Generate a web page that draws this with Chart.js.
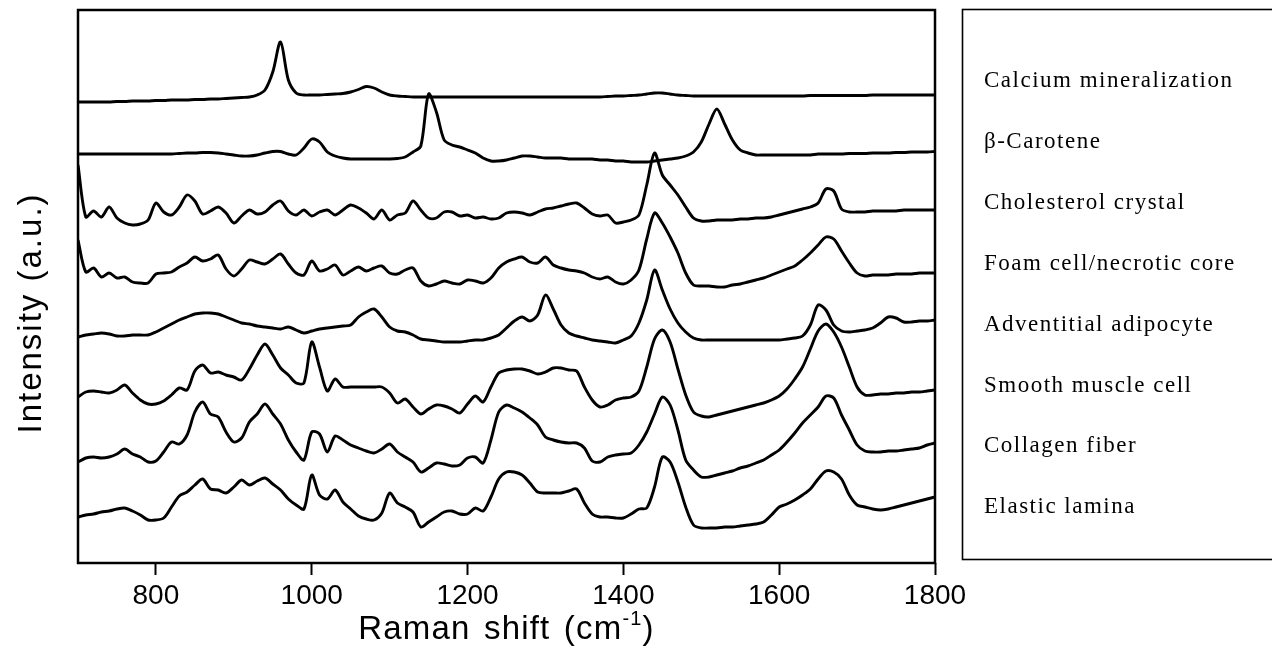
<!DOCTYPE html>
<html>
<head>
<meta charset="utf-8">
<script src="https://cdn.jsdelivr.net/npm/chart.js@4.4.1/dist/chart.umd.min.js"></script>
<style>
  html, body { margin: 0; padding: 0; background: #fff; }
</style>
</head>
<body>
<canvas id="raman" width="1272" height="648"></canvas>
<script>
// Raman shift grid (cm-1), one sample every 10 cm-1
var ramanShift = [
  700, 710, 720, 730, 740, 750, 760, 770, 780, 790,
  800, 810, 820, 830, 840, 850, 860, 870, 880, 890,
  900, 910, 920, 930, 940, 950, 960, 970, 980, 990,
  1000, 1010, 1020, 1030, 1040, 1050, 1060, 1070, 1080, 1090,
  1100, 1110, 1120, 1130, 1140, 1150, 1160, 1170, 1180, 1190,
  1200, 1210, 1220, 1230, 1240, 1250, 1260, 1270, 1280, 1290,
  1300, 1310, 1320, 1330, 1340, 1350, 1360, 1370, 1380, 1390,
  1400, 1410, 1420, 1430, 1440, 1450, 1460, 1470, 1480, 1490,
  1500, 1510, 1520, 1530, 1540, 1550, 1560, 1570, 1580, 1590,
  1600, 1610, 1620, 1630, 1640, 1650, 1660, 1670, 1680, 1690,
  1700, 1710, 1720, 1730, 1740, 1750, 1760, 1770, 1780, 1790, 1800
];

var tickValues = [800, 1000, 1200, 1400, 1600, 1800];

var names = [
  'Calcium mineralization', 'β-Carotene', 'Cholesterol crystal', 'Foam cell/necrotic core',
  'Adventitial adipocyte', 'Smooth muscle cell', 'Collagen fiber', 'Elastic lamina'
];

// vertical offset of each trace (a.u.), top to bottom
var offsets = [461, 409, 348, 288, 228, 166, 103, 46];

var calcium = [
  0, 0, 0, 0, 0, 0.5, 0.5, 1, 1, 1,
  1.5, 1.5, 2, 2, 2, 2.5, 2.5, 3, 3, 3.5,
  4, 4.5, 5, 7, 12, 30, 60, 22, 9, 7,
  7, 7, 7.5, 8, 8.5, 10, 12.5, 15.5, 14, 10,
  7, 6, 5.5, 5, 5, 5, 5, 5, 5, 5,
  5, 5, 5, 5, 5, 5, 5, 5, 5, 5,
  5, 5, 5, 5, 5, 5, 5, 5, 5.5, 6,
  6, 6.5, 7, 8, 9, 9, 8, 7, 6.5, 6,
  6, 6, 6, 6, 6, 6, 6, 6, 6, 6,
  6, 6, 6, 6, 6.5, 6.5, 6.5, 6.5, 6.5, 6.5,
  6.5, 6.5, 7, 7, 7, 7, 7, 7, 7, 7, 7
];

var carotene = [
  0, 0, 0, 0, 0, 0, 0, 0, 0, 0,
  0, 0, 0, 0.5, 1, 1, 1.5, 1.5, 1, 0,
  -1, -2, -2, -1, 1, 2.5, 2.5, 0, -1, 6,
  15, 12, 2, -2, -4, -5, -5, -5, -5, -5,
  -5, -4.5, -3, 2, 8, 60, 42, 14, 9, 7,
  4, 1, -4, -7, -7, -6, -4, -2, -2, -3,
  -4, -4, -4, -5, -5, -5, -5, -6, -6, -7,
  -7, -8, -8, -8, -7, -6, -5, -4, -2, 2,
  12, 30, 45, 30, 14, 4, 1, -1, -1, -1,
  -1, -1, -1, -1, -1, 0, 0, 0, 0, 0.5,
  0.5, 0.5, 1, 1, 1, 1.5, 1.5, 2, 2, 2, 2.5
];

var cholesterol = [
  50, -2, 4, -2, 8, -3, -8, -10, -9, -5,
  12, 3, 0, 8, 20, 14, 1, 4, 8, 2,
  -8, -1, 5, 1, 3, 10, 14, 4, 0, 5,
  -1, 3, 5, 0, 5, 10, 7, 2, -4, 5,
  -5, 0, 2, 14, 5, -3, -3, 3, 3, -1,
  0, -3, -2, -4, -3, 2, 3, 2, 0, 3,
  6, 7, 9, 11, 12, 7, 1, -1, 0, -8,
  -7, -5, 0, 30, 62, 40, 30, 20, 8, -3,
  -6, -6, -5, -5, -5, -4, -4, -3, -3, -2,
  0, 2, 4, 6, 8, 12, 26, 24, 6, 3,
  3, 3, 4, 4, 4, 4, 5, 5, 5, 5, 5
];

var foamCell = [
  35, 3, 7, -2, 2, -3, -2, -7, -8, -8,
  1, 2, 3, 8, 12, 18, 14, 16, 20, 6,
  -1, 6, 15, 13, 11, 16, 21, 11, 2, 0,
  14, 4, 6, 10, 0, 4, 8, 4, 7, 9,
  2, 1, 5, 7, -6, -11, -9, -6, -8, -9,
  -5, -6, -8, -3, 7, 13, 16, 18, 13, 12,
  18, 10, 7, 5, 4, 2, -2, -4, -2, -7,
  -9, -5, 5, 36, 62, 52, 38, 22, 2, -10,
  -11, -11, -12, -12, -10, -9, -7, -5, -3, 0,
  3, 6, 9, 15, 22, 30, 38, 36, 24, 12,
  2, -1, 0, 0, 0, 1, 1, 1, 2, 2, 2
];

var adipocyte = [
  -2, 0, 1, 2, 1, -1, -1, 0, 0, 0,
  3, 7, 11, 15, 18, 21, 22, 22, 21, 18,
  15, 12, 11, 9, 8, 7, 6, 8, 5, 2,
  4, 6, 7, 8, 9, 10, 18, 23, 26, 18,
  8, 4, 3, 0, -4, -5, -6, -7, -7, -7,
  -6, -5, -5, -3, 0, 7, 14, 18, 14, 20,
  40, 26, 10, 2, -1, -3, -5, -6, -7, -8,
  -5, -1, 12, 35, 65, 45, 26, 12, 3, -3,
  -5, -5, -5, -5, -5, -5, -5, -5, -5, -5,
  -5, -4, -3, -1, 10, 30, 25, 10, 4, 3,
  4, 5, 7, 12, 18, 17, 13, 13, 14, 14, 15
];

var smoothMuscle = [
  0, 5, 6, 5, 4, 7, 12, 4, -3, -7,
  -7, -4, 2, 9, 7, 26, 32, 24, 25, 22,
  20, 17, 28, 42, 53, 42, 29, 22, 14, 14,
  55, 30, 6, 18, 10, 10, 10, 10, 10, 10,
  4, -6, -2, -10, -17, -12, -8, -9, -12, -16,
  -7, 1, -5, 10, 24, 27, 28, 28, 26, 23,
  25, 29, 29, 27, 26, 10, -3, -10, -8, -3,
  -1, 0, 6, 30, 58, 67, 55, 28, 2, -15,
  -19, -20, -18, -16, -14, -12, -10, -8, -6, -3,
  1, 8, 18, 30, 48, 66, 73, 65, 50, 30,
  10, 2, 2, 3, 3, 4, 4, 5, 5, 6, 7
];

var collagen = [
  -2, 2, 3, 2, 3, 6, 11, 6, 3, -2,
  -1, 8, 18, 16, 25, 48, 58, 46, 43, 28,
  18, 22, 38, 46, 56, 46, 36, 20, 8, 0,
  28, 26, 8, 24, 20, 15, 12, 9, 7, 11,
  16, 8, 3, -2, -12, -8, -3, -4, -6, -5,
  2, 3, -3, 20, 48, 55, 52, 48, 42, 35,
  23, 20, 18, 17, 17, 12, -1, -2, 3, 5,
  6, 7, 15, 28, 46, 63, 55, 30, 0, -10,
  -17, -17, -15, -13, -11, -8, -6, -3, 0, 5,
  10, 18, 27, 37, 45, 53, 64, 62, 45, 30,
  15, 9, 8, 8, 9, 9, 10, 11, 12, 15, 17
];

var elastic = [
  0, 2, 3, 5, 6, 8, 9, 6, 2, -3,
  -3, -1, 10, 21, 25, 32, 38, 28, 27, 24,
  30, 37, 32, 36, 39, 33, 27, 18, 12, 8,
  42, 22, 18, 27, 15, 8, 1, -2, -3, 4,
  24, 14, 10, 5, -10, -5, 0, 5, 6, 3,
  3, 9, 6, 20, 38, 45, 45, 42, 34, 25,
  24, 24, 24, 26, 28, 14, 3, 0, 0, -1,
  -1, 3, 8, 9, 30, 60, 55, 35, 10, -8,
  -11, -11, -11, -10, -10, -9, -8, -7, -5, 2,
  10, 13, 17, 22, 28, 38, 46, 45, 38, 22,
  12, 10, 8, 7, 8, 10, 12, 14, 16, 18, 20
];

var spectra = [calcium, carotene, cholesterol, foamCell, adipocyte, smoothMuscle, collagen, elastic];

var datasets = spectra.map(function (s, i) {
  return {
    label: names[i],
    data: s.map(function (v, j) { return { x: ramanShift[j], y: offsets[i] + v }; }),
    borderColor: '#000',
    borderWidth: 2.9,
    pointRadius: 0,
    tension: 0.3,
    fill: false
  };
});

// frame, label box and axis titles
var decorations = {
  id: 'decorations',
  afterDraw: function (chart) {
    var ctx = chart.ctx;
    var a = chart.chartArea;
    ctx.save();
    ctx.strokeStyle = '#000';
    ctx.fillStyle = '#000';

    ctx.lineWidth = 2.5;
    ctx.strokeRect(a.left, a.top, a.right - a.left, a.bottom - a.top);

    ctx.lineWidth = 1.6;
    ctx.strokeRect(962.5, 9.5, 400, 550);

    ctx.font = '23px "Liberation Serif"';
    ctx.letterSpacing = '1.5px';
    ctx.textAlign = 'left';
    ctx.textBaseline = 'alphabetic';
    names.forEach(function (n, i) {
      ctx.fillText(n, 984, 87 + i * 60.9);
    });

    // x title with superscript
    var main = 'Raman shift (cm';
    var sup = '-1';
    var end = ')';
    ctx.letterSpacing = '1.2px';
    ctx.wordSpacing = '3px';
    ctx.font = '33px "Liberation Sans"';
    var w1 = ctx.measureText(main).width;
    var w3 = ctx.measureText(end).width;
    ctx.font = '20px "Liberation Sans"';
    var w2 = ctx.measureText(sup).width;
    var cx = (a.left + a.right) / 2;
    var x0 = cx - (w1 + w2 + w3) / 2;
    ctx.font = '33px "Liberation Sans"';
    ctx.fillText(main, x0, 639);
    ctx.fillText(end, x0 + w1 + w2, 639);
    ctx.font = '20px "Liberation Sans"';
    ctx.fillText(sup, x0 + w1, 625);
    ctx.wordSpacing = '0px';

    // y title
    ctx.translate(41, 313);
    ctx.rotate(-Math.PI / 2);
    ctx.font = '33px "Liberation Sans"';
    ctx.letterSpacing = '2px';
    ctx.textAlign = 'center';
    ctx.fillText('Intensity (a.u.)', 0, 0);
    ctx.restore();
  }
};

var ctx = document.getElementById('raman').getContext('2d');
var ramanChart = new Chart(ctx, {
  type: 'line',
  data: { datasets: datasets },
  options: {
    responsive: false,
    animation: false,
    devicePixelRatio: 1,
    layout: { padding: { left: 78, top: 10, right: 337, bottom: 0 } },
    plugins: { legend: { display: false }, tooltip: { enabled: false } },
    scales: {
      x: {
        type: 'linear',
        min: 700,
        max: 1800,
        afterBuildTicks: function (scale) {
          scale.ticks = tickValues.map(function (v) { return { value: v }; });
        },
        afterFit: function (scale) { scale.height = 85; },
        border: { display: false },
        grid: {
          drawOnChartArea: false,
          drawTicks: true,
          tickLength: 12,
          tickWidth: 2,
          tickColor: '#000'
        },
        ticks: {
          color: '#000',
          padding: 4,
          maxRotation: 0,
          font: { family: 'Liberation Sans', size: 28 },
          callback: function (v) { return String(v); }
        }
      },
      y: {
        display: false,
        min: 0,
        max: 553
      }
    }
  },
  plugins: [decorations]
});
</script>
</body>
</html>
